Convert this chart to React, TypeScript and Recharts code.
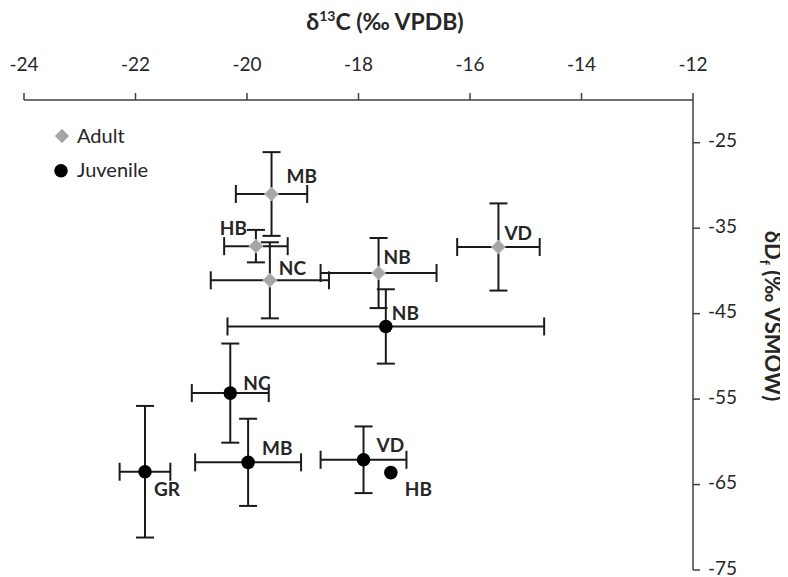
import React from 'react';
import { ScatterChart, Scatter, XAxis, YAxis, ErrorBar, Legend } from 'recharts';

const adultSites = ['MB', 'HB', 'NC', 'NB', 'VD'];
const adultD13C = [-19.56, -19.84, -19.59, -17.64, -15.49];
const adultD13CErr = [0.64, 0.57, 1.06, 1.04, 0.74];
const adultDD = [-31.0, -37.1, -41.1, -40.25, -37.2];
const adultDDErr = [4.9, 1.9, 4.45, 4.1, 5.1];

const juvSites = ['NB', 'NC', 'GR', 'MB', 'VD', 'HB'];
const juvD13C = [-17.51, -20.3, -21.83, -19.98, -17.91, -17.42];
const juvD13CErr = [2.84, 0.69, 0.455, 0.95, 0.77, 0];
const juvDD = [-46.5, -54.3, -63.5, -62.4, -62.1, -63.6];
const juvDDErr = [4.35, 5.8, 7.7, 5.1, 3.9, 0];

const xTicks = [-24, -22, -20, -18, -16, -14, -12];
const yTicks = [-25, -35, -45, -55, -65, -75];

const adultData = adultSites.map((s, i) => ({ site: s, x: adultD13C[i], ex: adultD13CErr[i], y: adultDD[i], ey: adultDDErr[i] }));
const juvData = juvSites.map((s, i) => ({ site: s, x: juvD13C[i], ex: juvD13CErr[i], y: juvDD[i], ey: juvDDErr[i] }));

// label placement (dx, dy, anchor) relative to the marker
const adultLabelPos: Record<string, [number, number, string]> = {
  MB: [15, -11, 'start'],
  HB: [-9, -11, 'end'],
  NC: [9, -5, 'start'],
  NB: [5, -9, 'start'],
  VD: [6, -7, 'start'],
};
const juvLabelPos: Record<string, [number, number, string]> = {
  NB: [6, -6, 'start'],
  NC: [13, -3, 'start'],
  GR: [9, 24, 'start'],
  MB: [14, -7, 'start'],
  VD: [13, -8, 'start'],
  HB: [14, 23, 'start'],
};

const FONT = 'Lato';
const INK = '#262626';

const labelStyle = { fontFamily: FONT, fontSize: 19, fontWeight: 700, fill: INK } as const;

const AdultShape = (p: any) => {
  const { cx, cy, payload } = p;
  const r = 7;
  const [dx, dy, anchor] = adultLabelPos[payload.site];
  return (
    <g>
      <polygon
        points={`${cx},${cy - r} ${cx + r},${cy} ${cx},${cy + r} ${cx - r},${cy}`}
        fill="#a6a6a6"
        stroke="#c4c4c4"
        strokeWidth={1}
      />
      <text x={cx + dx} y={cy + dy} textAnchor={anchor as any} {...labelStyle}>{payload.site}</text>
    </g>
  );
};

const JuvShape = (p: any) => {
  const { cx, cy, payload } = p;
  const [dx, dy, anchor] = juvLabelPos[payload.site];
  return (
    <g>
      <circle cx={cx} cy={cy} r={6.8} fill="#000" />
      <text x={cx + dx} y={cy + dy} textAnchor={anchor as any} {...labelStyle}>{payload.site}</text>
    </g>
  );
};

const LegendContent = () => (
  <svg width={150} height={64} style={{ display: 'block', overflow: 'visible' }}>
    <polygon points="10,4 17,11 10,18 3,11" fill="#a6a6a6" stroke="#c4c4c4" strokeWidth={1} />
    <text x={25} y={18} fontFamily={FONT} fontSize={20} fill={INK}>Adult</text>
    <circle cx={9} cy={45.7} r={6.8} fill="#000" />
    <text x={25} y={52} fontFamily={FONT} fontSize={20} fill={INK}>Juvenile</text>
  </svg>
);

const XTitle = () => (
  <text x={377} y={22} textAnchor="middle" fontFamily={FONT} fontSize={23} fontWeight={700} fill={INK}>
    δ<tspan fontSize={14} dy={-9}>13</tspan><tspan dy={9}>C (‰ VPDB)</tspan>
  </text>
);

const YTitle = () => (
  <text
    x={0}
    y={0}
    transform="translate(757,308) rotate(90)"
    textAnchor="middle"
    fontFamily={FONT}
    fontSize={22}
    fontWeight={700}
    fill={INK}
  >
    δD<tspan fontSize={14} dy={5}>f</tspan><tspan dy={-5}> (‰ VSMOW)</tspan>
  </text>
);

export default function App() {
  const axisLine = { stroke: '#404040', strokeWidth: 1.5 };
  return (
    <ScatterChart width={780} height={569} margin={{ top: 32, right: 35, bottom: 7, left: 16 }}>
      <XAxis
        type="number"
        dataKey="x"
        orientation="top"
        domain={[-24, -12]}
        ticks={xTicks}
        height={60}
        axisLine={axisLine}
        tickLine={axisLine}
        tickSize={7}
        tickMargin={22}
        tick={{ fontFamily: FONT, fontSize: 19, fill: INK }}
        interval={0}
        allowDataOverflow
        label={{ content: () => <XTitle /> }}
      />
      <YAxis
        type="number"
        dataKey="y"
        orientation="right"
        domain={[-75, -20]}
        ticks={yTicks}
        width={60}
        axisLine={axisLine}
        tickLine={axisLine}
        tickSize={7}
        tickMargin={8}
        tick={{ fontFamily: FONT, fontSize: 19, fill: INK, dy: -2 }}
        interval={0}
        allowDataOverflow
        label={{ content: () => <YTitle /> }}
      />
      <Legend
        layout="vertical"
        align="center"
        verticalAlign="middle"
        content={() => <LegendContent />}
        wrapperStyle={{ left: 44, top: 117, width: 150, height: 64 }}
      />
      <Scatter name="Adult" data={adultData} shape={(p: any) => <AdultShape {...p} />} isAnimationActive={false}>
        <ErrorBar dataKey="ex" direction="x" width={9} stroke="#1a1a1a" strokeWidth={2} />
        <ErrorBar dataKey="ey" direction="y" width={9} stroke="#1a1a1a" strokeWidth={2} />
      </Scatter>
      <Scatter name="Juvenile" data={juvData} shape={(p: any) => <JuvShape {...p} />} isAnimationActive={false}>
        <ErrorBar dataKey="ex" direction="x" width={9} stroke="#1a1a1a" strokeWidth={2} />
        <ErrorBar dataKey="ey" direction="y" width={9} stroke="#1a1a1a" strokeWidth={2} />
      </Scatter>
    </ScatterChart>
  );
}
